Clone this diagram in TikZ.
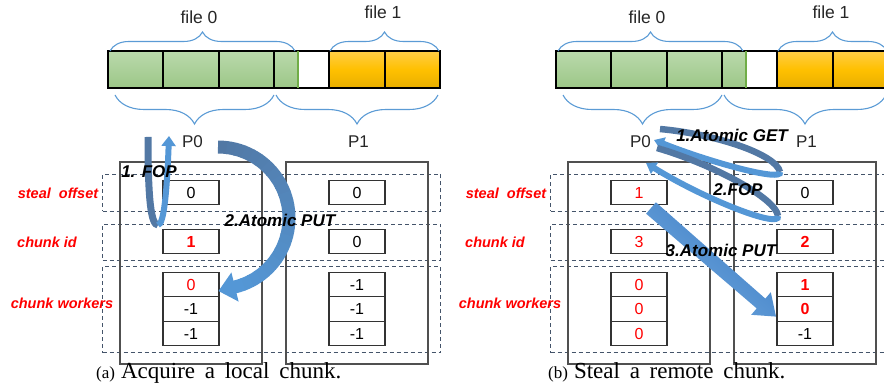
\documentclass[tikz,border=0pt]{standalone}
\usepackage{fontspec}
\setmainfont{Liberation Sans}
\newfontfamily\capfont{Liberation Serif}
\usetikzlibrary{decorations.pathreplacing,arrows.meta}

\definecolor{gtop}{RGB}{186,217,172}
\definecolor{gbot}{RGB}{156,199,135}
\definecolor{gedge}{RGB}{112,173,71}
\definecolor{otop}{RGB}{255,205,70}
\definecolor{omid}{RGB}{255,192,0}
\definecolor{obot}{RGB}{232,174,0}
\definecolor{bracec}{RGB}{91,155,213}
\definecolor{rowc}{RGB}{68,84,106}
\definecolor{boxc}{RGB}{80,80,80}
\definecolor{ribdark}{RGB}{82,120,164}
\definecolor{riblight}{RGB}{84,151,214}
\definecolor{putstart}{RGB}{60,124,196}
\definecolor{putend}{RGB}{112,168,222}

\tikzset{
  cell/.style={draw=black, line width=1.2pt, minimum height=37pt, inner sep=0pt, outer sep=0pt},
  gcell/.style={cell, minimum width=#1, top color=gtop, bottom color=gbot},
  ocell/.style={cell, minimum width=#1, top color=otop, bottom color=obot, middle color=omid},
  wcell/.style={cell, minimum width=#1, fill=white},
  topbrace/.style={draw=bracec, line width=1.1pt, decorate, decoration={brace, amplitude=19pt}},
  lowbrace/.style={draw=bracec, line width=1.1pt, decorate, decoration={brace, amplitude=29pt}},
  flabel/.style={font=\fontsize{17.5}{20}\selectfont, text=black!85, inner sep=0pt},
  ptitle/.style={font=\fontsize{17}{20}\selectfont, text=black!85, inner sep=0pt},
  pbox/.style={draw=boxc, line width=1.5pt, minimum width=142pt, minimum height=202pt, inner sep=0pt},
  vbox/.style={draw=black!80, line width=1.1pt, fill=white, minimum width=56pt, minimum height=24.5pt,
    inner sep=0pt, font=\fontsize{16}{18}\selectfont},
  rowbox/.style={draw=rowc, line width=1pt, dash pattern=on 4pt off 3pt, minimum width=338pt, inner sep=0pt, anchor=north west},
  rowlab/.style={font=\fontsize{14.5}{17}\selectfont\bfseries\itshape, text=red, inner sep=0pt},
  steplab/.style={font=\fontsize{17}{20}\selectfont\bfseries\itshape, text=black, inner sep=0pt},
  caplab/.style={inner sep=0pt, anchor=base west},
}

% file bar with its braces, the dashed rows and their labels
\newcommand\memlayout{%
  \node[gcell=55pt, anchor=north west]   (c1) at (108,-51) {};
  \node[gcell=56pt, anchor=north west]   (c2) at (163,-51) {};
  \node[gcell=55pt, anchor=north west]   (c3) at (219,-51) {};
  \node[gcell=24pt, anchor=north west]   (c4) at (274,-51) {};
  \node[wcell=31pt, anchor=north west]   (c5) at (298,-51) {};
  \node[ocell=56pt, anchor=north west]   (c6) at (329,-51) {};
  \node[ocell=55pt, anchor=north west]   (c7) at (385,-51) {};
  \draw[gedge, line width=1.2pt] (c4.north east) -- (c4.south east);
  \draw[topbrace] (110,-51) -- (295,-51);
  \draw[topbrace] (330,-51) -- (439,-51);
  \node[flabel] (f0) at (199,-17) {file 0};
  \node[flabel] (f1) at (383,-12) {file 1};
  \draw[lowbrace] (274,-95) -- (115,-95);
  \draw[lowbrace] (438,-95) -- (276,-95);
  \node[rowbox, minimum height=37pt] (rso) at (102,-174) {};
  \node[rowbox, minimum height=36pt] (rci) at (102,-224) {};
  \node[rowbox, minimum height=86pt] (rcw) at (102,-266) {};
  \node[rowlab] (lso) at (58,-193) {steal\ \ offset};
  \node[rowlab] (lci) at (47,-242) {chunk id};
  \node[rowlab] (lcw) at (62,-303) {chunk workers};
}

% one process: outer box, its title and its value cells
% #1 name, #2 centre x, #3 title, #4 steal offset, #5 chunk id, #6-#8 chunk workers
\newcommand\procbox[8]{%
  \node[pbox] (#1) at (#2,-263) {};
  \node[ptitle] (#1t) at (#2+1.5,-142) {#3};
  \node[vbox] (#1so) at (#2,-192.5) {#4};
  \node[vbox] (#1ci) at (#2,-241.5) {#5};
  \node[vbox] (#1wa) at (#2,-284.5) {#6};
  \node[vbox] (#1wb) at (#2,-309) {#7};
  \node[vbox] (#1wc) at (#2,-333.5) {#8};
}

\begin{document}
\begin{tikzpicture}[x=1pt, y=1pt]
\useasboundingbox (0,0) rectangle (884,-390);
\clip (0,0) rectangle (884,-390);

% ---------------- (a) acquire a local chunk ----------------
\begin{scope}[name prefix=L-]
  \memlayout
  \procbox{p0}{191}{P0}{0}{\textcolor{red}{\bfseries 1}}{\textcolor{red}{0}}{-1}{-1}
  \procbox{p1}{357}{P1}{0}{0}{-1}{-1}{-1}

  % 1. FOP : u-turn ribbon
  \coordinate (fopa) at (148,-137);
  \coordinate (fopb) at (158,-225);
  \coordinate (fopc) at (169,-136);
  \draw[ribdark, line width=7pt] (fopa) .. controls (148,-200) and (151,-225) .. (fopb);
  \draw[riblight, line width=6pt, -{Triangle[width=14pt,length=10pt]}]
    (fopb) .. controls (164,-225) and (167,-190) .. (fopc);

  % 2. Atomic PUT : arc around the steal offset cell
  \coordinate (putc) at (218,-218);
  \foreach \i in {0,...,23} {
    \pgfmathsetmacro\a{90-\i*166/24}
    \pgfmathsetmacro\b{\a-166/24-0.8}
    \pgfmathtruncatemacro\p{100-100*\i/23}
    \draw[ribdark!\p!riblight, line width=13pt] (putc) ++(\a:71) arc[start angle=\a, end angle=\b, radius=71];
  }
  \fill[riblight] (238.6,-301.6) -- (231.4,-272.4) -- (218.5,-291) -- cycle;

  \node[steplab] (s1) at (149,-172) {1. FOP};
  \node[steplab] (s2) at (280,-220) {2.Atomic PUT};

  \node[caplab] (cap) at (96,-378) {\capfont{\fontsize{17}{18}\selectfont (a)}\hspace{6pt}{\fontsize{23}{26}\selectfont Acquire\hspace{4pt} a\hspace{4pt} local\hspace{4pt} chunk.}};
\end{scope}

% ---------------- (b) steal a remote chunk ----------------
\begin{scope}[name prefix=R-, xshift=448pt]
  \memlayout
  \procbox{p0}{191}{P0}{\textcolor{red}{1}}{\textcolor{red}{3}}{\textcolor{red}{0}}{\textcolor{red}{0}}{\textcolor{red}{0}}
  \procbox{p1}{357}{P1}{0}{\textcolor{red}{\bfseries 2}}{\textcolor{red}{\bfseries 1}}{\textcolor{red}{\bfseries 0}}{-1}
\end{scope}

% 1. Atomic GET : loop out to P1 and back
\coordinate (geta) at (660,-129);
\coordinate (getb) at (780,-172);
\coordinate (getc) at (654,-140);
\draw[ribdark, line width=6.5pt] (geta) .. controls (715,-134) and (776,-154) .. (getb);
\draw[riblight, line width=6pt, -{Triangle[width=13pt,length=10pt]}]
  (getb) .. controls (783,-182) and (712,-163) .. (getc);

% 2. FOP : second loop
\coordinate (fpa) at (657,-148);
\coordinate (fpb) at (778,-216);
\coordinate (fpc) at (646,-163);
\draw[ribdark, line width=6.5pt] (fpa) .. controls (712,-164) and (776,-198) .. (fpb);
\draw[riblight, line width=6pt, -{Triangle[width=13pt,length=10pt]}]
  (fpb) .. controls (781,-229) and (706,-200) .. (fpc);

% 3. Atomic PUT : straight arrow into P1's chunk workers
\shade[left color=putstart, right color=putend, shading angle=-41]
  (655.9,-202.3) -- (765.3,-298.6) -- (770.8,-292.2) -- (776,-316.6)
  -- (751.2,-314.8) -- (756.7,-308.4) -- (646.1,-213.7) -- cycle;

\node[steplab] (t1) at (732,-135) {1.Atomic GET};
\node[steplab] (t2) at (738,-190) {2.FOP};
\node[steplab] (t3) at (721,-250) {3.Atomic PUT};

\node[caplab] (capb) at (548,-378) {\capfont{\fontsize{17}{18}\selectfont (b)}\hspace{6pt}{\fontsize{23}{26}\selectfont Steal\hspace{4pt} a\hspace{4pt} remote\hspace{4pt} chunk.}};
\end{tikzpicture}
\end{document}
